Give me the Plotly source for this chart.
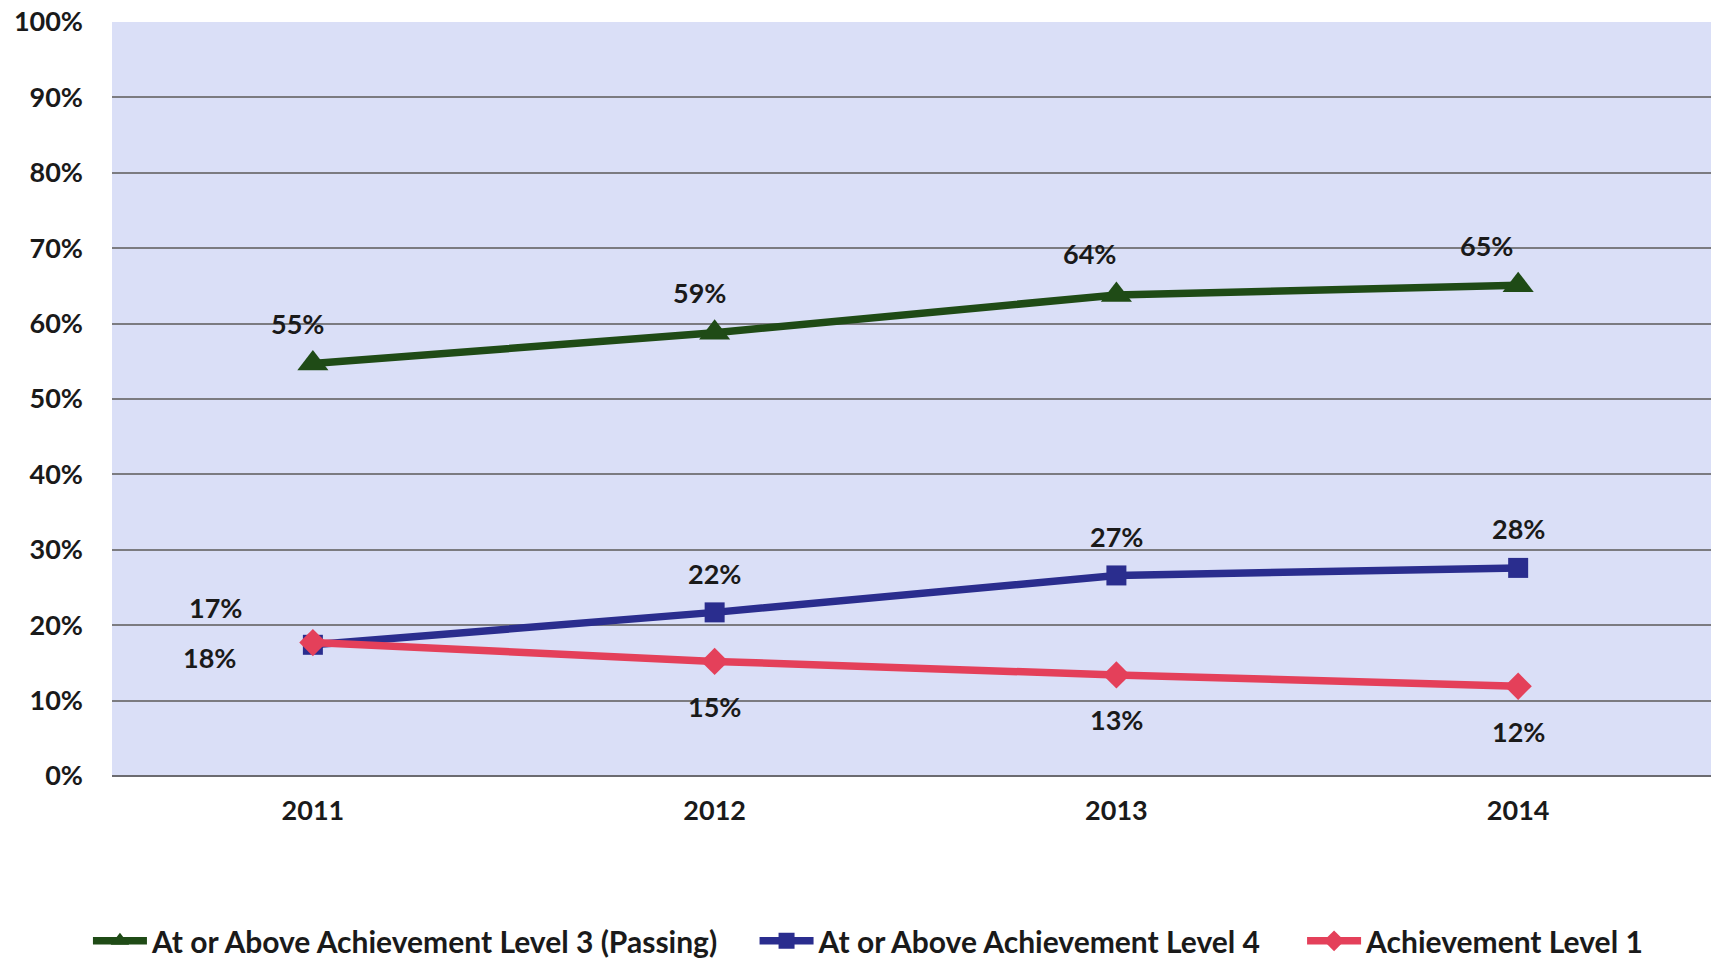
import plotly.graph_objects as go

years = ["2011", "2012", "2013", "2014"]
level3 = [0.547, 0.588, 0.638, 0.651]
level4 = [0.174, 0.217, 0.266, 0.276]
level1 = [0.177, 0.152, 0.134, 0.119]
ytick_vals = [0, 0.1, 0.2, 0.3, 0.4, 0.5, 0.6, 0.7, 0.8, 0.9, 1.0]
ytick_text = ["0%", "10%", "20%", "30%", "40%", "50%", "60%", "70%", "80%", "90%", "100%"]
names = ["At or Above Achievement Level 3 (Passing)",
         "At or Above Achievement Level 4",
         "Achievement Level 1"]

FONT = "Lato, 'Noto Sans', sans-serif"
TXT = "#1a1a1a"
colors = ["#1f4b16", "#2a2d8e", "#e4405a"]
symbols = ["triangle-up", "square", "diamond"]
msizes = [27, 20, 21]
legend_ids = ["legend", "legend2", "legend3"]
legend_x = [0.0514, 0.441, 0.761]

fig = go.Figure()
for vals, name, c, s, ms, lg in zip([level3, level4, level1], names, colors, symbols, msizes, legend_ids):
    fig.add_trace(go.Scatter(
        x=years, y=vals, name=name, mode="lines+markers",
        line=dict(color=c, width=7.5),
        marker=dict(symbol=s, size=ms, color=c),
        legend=lg,
    ))

# label offsets (pixels) per series / point
shifts = [
    [(-15, 40), (-15, 40), (-27, 41), (-32, 40)],
    [(-97, 37), (0, 39), (0, 39), (0, 39)],
    [(-103, -15), (0, -45), (0, -45), (0, -45)],
]
for vals, sh in zip([level3, level4, level1], shifts):
    for i, (v, (dx, dy)) in enumerate(zip(vals, sh)):
        fig.add_annotation(x=i, y=v, xref="x", yref="y",
                           text="%d%%" % round(v * 100), showarrow=False,
                           xshift=dx, yshift=dy,
                           font=dict(family=FONT, size=27, color=TXT, weight="bold"))

leg_common = dict(orientation="h", xref="container", yref="container", xanchor="left",
                  y=0.022, yanchor="middle", itemwidth=54, bgcolor="rgba(0,0,0,0)",
                  font=dict(family=FONT, size=30, color=TXT, weight="bold"))
fig.update_layout(
    width=1711, height=962,
    margin=dict(l=112, r=0, t=22, b=186, autoexpand=False),
    paper_bgcolor="white",
    plot_bgcolor="#dadff7",
    font=dict(family=FONT, size=27, color=TXT, weight="bold"),
    showlegend=True,
    legend=dict(x=legend_x[0], **leg_common),
    legend2=dict(x=legend_x[1], **leg_common),
    legend3=dict(x=legend_x[2], **leg_common),
)
fig.update_xaxes(type="category", range=[-0.5, 3.48], showgrid=False, zeroline=False,
                 showline=False, ticks="", ticklabelstandoff=16, automargin=False,
                 tickfont=dict(family=FONT, size=27, color=TXT, weight="bold"))
fig.update_yaxes(range=[0, 1.0], tickvals=ytick_vals, ticktext=ytick_text,
                 showgrid=True, gridcolor="#7b7b80", gridwidth=1.6,
                 zeroline=True, zerolinecolor="#6b6b70", zerolinewidth=2,
                 showline=False, ticks="", ticklabelstandoff=28, automargin=False,
                 tickfont=dict(family=FONT, size=27, color=TXT, weight="bold"))

fig.write_html("out.html", config={"displayModeBar": False},
               post_script="document.body.style.margin='0';document.body.style.overflow='hidden';")
